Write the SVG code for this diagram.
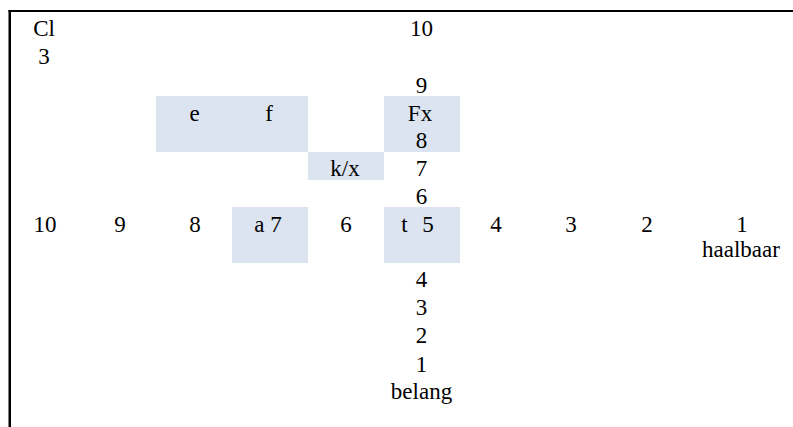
<svg xmlns="http://www.w3.org/2000/svg" width="793" height="427" viewBox="0 0 793 427">
  <style>
    .cell { fill: #DBE4F0; }
    .rule { fill: #000; }
  </style>
  <rect width="793" height="427" fill="#fff"/>

  <!-- frame: top rule and left rule -->
  <g id="frame">
    <rect class="rule" x="8.5" y="10" width="784.5" height="2"/>
    <rect class="rule" x="8.5" y="10" width="2.5" height="417"/>
  </g>

  <!-- shaded cells -->
  <g id="cells">
    <rect class="cell" x="156" y="96" width="152" height="56"/>
    <rect class="cell" x="384" y="96" width="76" height="56"/>
    <rect class="cell" x="308" y="152" width="76" height="28"/>
    <rect class="cell" x="232" y="207" width="76" height="56"/>
    <rect class="cell" x="384" y="207" width="76" height="56"/>
  </g>

  <g font-family="Liberation Serif, Times New Roman, serif" font-size="23" fill="#000" text-anchor="middle">
    <!-- corner label -->
    <g id="corner">
      <text x="44" y="36">Cl</text>
      <text x="44" y="63.5">3</text>
    </g>

    <!-- vertical scale (belang) -->
    <g id="scale-belang">
      <text x="421.5" y="36">10</text>
      <text x="421.5" y="93">9</text>
      <text x="421.5" y="148">8</text>
      <text x="421.5" y="176">7</text>
      <text x="421.5" y="203.5">6</text>
      <text x="421.5" y="287">4</text>
      <text x="421.5" y="315">3</text>
      <text x="421.5" y="343">2</text>
      <text x="421.5" y="371.5">1</text>
      <text x="421.5" y="399">belang</text>
    </g>

    <!-- horizontal scale (haalbaar) -->
    <g id="scale-haalbaar">
      <text x="45" y="231.7">10</text>
      <text x="120" y="231.7">9</text>
      <text x="195" y="231.7">8</text>
      <text x="346" y="231.7">6</text>
      <text x="496" y="231.7">4</text>
      <text x="571" y="231.7">3</text>
      <text x="647" y="231.7">2</text>
      <text x="742" y="231.7">1</text>
      <text x="741" y="256.5">haalbaar</text>
    </g>

    <!-- plotted items -->
    <g id="item-e"><text x="194.5" y="121">e</text></g>
    <g id="item-f"><text x="269" y="121">f</text></g>
    <g id="item-Fx"><text x="420" y="121">Fx</text></g>
    <g id="item-kx"><text x="345" y="176">k/x</text></g>
    <g id="item-a"><text x="268" y="231.7">a 7</text></g>
    <g id="item-t"><text x="417.5" y="231.7" word-spacing="9">t 5</text></g>
  </g>

  <g id="connectors"/>
</svg>
